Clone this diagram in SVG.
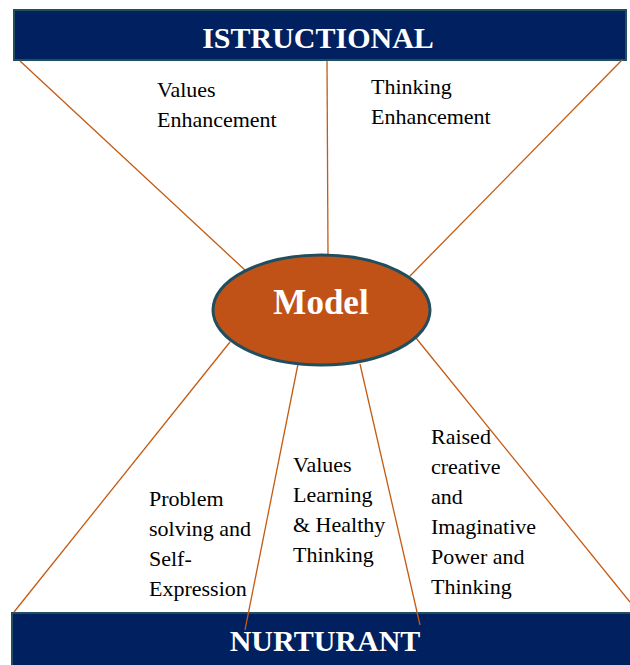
<svg xmlns="http://www.w3.org/2000/svg" width="630" height="665" viewBox="0 0 630 665">
<style>
.banner{fill:#002060;stroke:#1F4E5F;stroke-width:2}
.bt{font-family:'Liberation Serif','Times New Roman',serif;font-weight:bold;font-size:30px;fill:#ffffff;text-anchor:middle}
.conn line{stroke:#C55A11;stroke-width:1.3}
</style>
<rect width="630" height="665" fill="#ffffff"/>
<g id="istructional">
<rect class="banner" x="14" y="10" width="612" height="50"/>
<text class="bt" x="318" y="48">ISTRUCTIONAL</text>
</g>
<g id="nurturant">
<rect class="banner" x="12" y="613" width="620" height="60"/>
<text class="bt" x="325" y="651">NURTURANT</text>
</g>
<g id="connectors" class="conn">
<line x1="20" y1="61" x2="246" y2="271"/>
<line x1="327" y1="61" x2="328" y2="256"/>
<line x1="622" y1="60" x2="408" y2="278"/>
<line x1="230" y1="342" x2="14" y2="612"/>
<line x1="298" y1="364" x2="245" y2="630"/>
<line x1="360" y1="364" x2="420" y2="625"/>
<line x1="416" y1="338" x2="630" y2="602"/>
</g>
<g id="model">
<ellipse cx="321.5" cy="310" rx="108.5" ry="55" fill="#C05217" stroke="#1F4E5F" stroke-width="3"/>
<text x="321" y="314" font-family="Liberation Serif, serif" font-weight="bold" font-size="35" fill="#ffffff" text-anchor="middle">Model</text>
</g>
<g font-family="Liberation Serif, serif" font-size="22" fill="#000000">
<g id="values-enhancement">
<text x="157" y="97">Values</text>
<text x="157" y="127">Enhancement</text>
</g>
<g id="thinking-enhancement">
<text x="371" y="94">Thinking</text>
<text x="371" y="124">Enhancement</text>
</g>
<g id="problem-solving">
<text x="149" y="506">Problem</text>
<text x="149" y="536">solving and</text>
<text x="149" y="566">Self-</text>
<text x="149" y="596">Expression</text>
</g>
<g id="values-learning">
<text x="293" y="472">Values</text>
<text x="293" y="502">Learning</text>
<text x="293" y="532">&amp; Healthy</text>
<text x="293" y="562">Thinking</text>
</g>
<g id="raised-creative">
<text x="431" y="444">Raised</text>
<text x="431" y="474">creative</text>
<text x="431" y="504">and</text>
<text x="431" y="534">Imaginative</text>
<text x="431" y="564">Power and</text>
<text x="431" y="594">Thinking</text>
</g>
</g>
</svg>
